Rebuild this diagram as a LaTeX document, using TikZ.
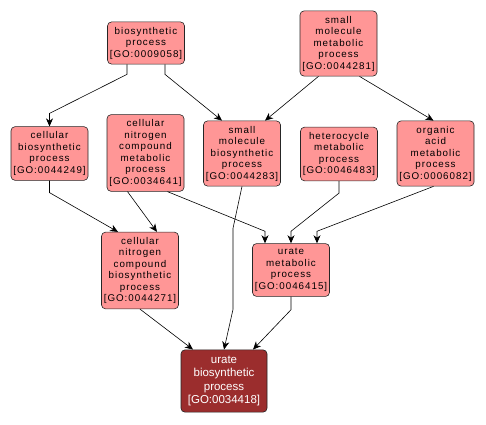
\documentclass[tikz,border=0pt]{standalone}
\usepackage{fontspec}
\setmainfont{Liberation Sans}
\newfontfamily\gofont[LetterSpace=10]{Liberation Sans}
\usetikzlibrary{arrows.meta, calc}
\definecolor{goterm}{RGB}{255,150,150}
\definecolor{goquery}{RGB}{155,45,45}

\begin{document}
\begin{tikzpicture}[x=1pt, y=-1pt, >={Stealth[length=8pt, width=7pt, inset=2.5pt]}, line width=0.6pt,
  term/.style={draw=black!85, fill=goterm, rounded corners=4pt, align=center, minimum width=77pt,
    inner xsep=1pt, inner ysep=5pt, font=\gofont\fontsize{9.8}{11.5}\selectfont},
  query/.style={term, fill=goquery, text=white, minimum width=86pt, inner ysep=6pt,
    font=\fontsize{11.5}{13.5}\selectfont}]
  \useasboundingbox (0,0) rectangle (486,424);
  % top row
  \node[term] (bio) at (146,43) {biosynthetic\\process\\{[GO:0009058]}};
  \node[term] (smm) at (338.5,43.5) {small\\molecule\\metabolic\\process\\{[GO:0044281]}};
  % middle row
  \node[term] (cbp) at (49.5,153.5) {cellular\\biosynthetic\\process\\{[GO:0044249]}};
  \node[term] (cnm) at (145.5,153) {cellular\\nitrogen\\compound\\metabolic\\process\\{[GO:0034641]}};
  \node[term] (smb) at (242,153.5) {small\\molecule\\biosynthetic\\process\\{[GO:0044283]}};
  \node[term] (het) at (339,154) {heterocycle\\metabolic\\process\\{[GO:0046483]}};
  \node[term] (oam) at (435.5,153.5) {organic\\acid\\metabolic\\process\\{[GO:0006082]}};
  % lower rows
  \node[term] (cnb) at (140,270.5) {cellular\\nitrogen\\compound\\biosynthetic\\process\\{[GO:0044271]}};
  \node[term] (urm) at (291,270) {urate\\metabolic\\process\\{[GO:0046415]}};
  \node[query] (urb) at (224,381) {urate\\biosynthetic\\process\\{[GO:0034418]}};

  \draw[->] ([xshift=-19pt]bio.south) -- ++(0,10) -- ([yshift=13pt]cbp.north) -- (cbp.north);
  \draw[->] ([xshift=19pt]bio.south) -- ++(0,10) -- ([xshift=-20pt]smb.north);
  \draw[->] ([xshift=-20pt]smm.south) -- ([xshift=23pt]smb.north);
  \draw[->] ([xshift=21pt]smm.south) -- ([xshift=-2pt]oam.north);
  \draw[->] (cbp.south) -- ++(0,12) -- ([xshift=-22pt]cnb.north);
  \draw[->] ([xshift=-18pt]cnm.south) -- ([xshift=17pt]cnb.north);
  \draw[->] ([xshift=22pt]cnm.south) -- ([xshift=-26pt,yshift=12pt]urm.north) -- ([xshift=-26pt]urm.north);
  \draw[->] (smb.south) -- ++(-9,42) -- ++(0,81) -- (urb.north);
  \draw[->] (het.south) -- ++(0,12) -- ([yshift=12pt]urm.north) -- (urm.north);
  \draw[->] ([xshift=-2pt]oam.south) -- ([xshift=26pt,yshift=12pt]urm.north) -- ([xshift=26pt]urm.north);
  \draw[->] (cnb.south) -- ([xshift=-31pt]urb.north);
  \draw[->] (urm.south) -- ++(0,13) -- ([xshift=29pt]urb.north);
\end{tikzpicture}
\end{document}
